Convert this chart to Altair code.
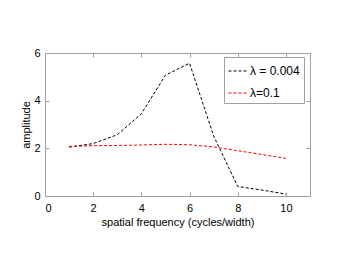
import altair as alt
import pandas as pd

freq = [1, 2, 3, 4, 5, 6, 7, 8, 9, 10]
amp_small = [2.05, 2.2, 2.57, 3.45, 5.07, 5.57, 2.52, 0.4, 0.25, 0.08]
amp_large = [2.08, 2.11, 2.12, 2.14, 2.17, 2.15, 2.06, 1.9, 1.74, 1.58]
labels = ["λ = 0.004", "λ=0.1"]
colors = ["#000000", "#ff0000"]
x_ticks = [0, 2, 4, 6, 8, 10]
y_ticks = [0, 2, 4, 6]

df = pd.DataFrame({
    "freq": freq * 2,
    "amp": amp_small + amp_large,
    "series": [labels[0]] * len(freq) + [labels[1]] * len(freq),
})

W, H = 265, 143
GRAY = "#a0a0a0"
FONT = "Liberation Sans"
xscale = alt.Scale(domain=[0, 11], nice=False, zero=False)
yscale = alt.Scale(domain=[0, 6], nice=False)

color = alt.Color(
    "series:N",
    scale=alt.Scale(domain=labels, range=colors),
    legend=alt.Legend(
        title=None, orient="none", legendX=179, legendY=4,
        symbolType="stroke", symbolDash=[3, 2], symbolStrokeWidth=1,
        symbolSize=360, labelFontSize=12, labelFont=FONT, labelColor="black",
        fillColor="white", strokeColor=GRAY, padding=4, rowPadding=6,
        labelOffset=2,
    ),
)

main = alt.Chart(df).mark_line(strokeWidth=1, strokeDash=[3, 2]).encode(
    x=alt.X("freq:Q", scale=xscale, axis=alt.Axis(
        orient="bottom", values=x_ticks, title="spatial frequency (cycles/width)",
        ticks=False, tickSize=0, domain=False, grid=False, labelPadding=6, titlePadding=3)),
    y=alt.Y("amp:Q", scale=yscale, axis=alt.Axis(
        orient="left", values=y_ticks, title="amplitude",
        ticks=False, tickSize=0, domain=False, grid=False, labelPadding=5, titlePadding=2)),
    color=color,
)

tick_axis = dict(labels=False, domain=False, grid=False, title=None, ticks=True,
                 tickSize=4, tickColor=GRAY)

ticks_b = alt.Chart(df).mark_line(opacity=0).encode(
    x=alt.X("freq:Q", scale=xscale, axis=alt.Axis(orient="top", offset=-H, values=x_ticks, **tick_axis)),
    y=alt.Y("amp:Q", scale=yscale, axis=alt.Axis(orient="right", offset=-W, values=y_ticks, **tick_axis)),
)
ticks_c = alt.Chart(df).mark_line(opacity=0).encode(
    x=alt.X("freq:Q", scale=xscale, axis=alt.Axis(orient="bottom", offset=-H, values=x_ticks, **tick_axis)),
    y=alt.Y("amp:Q", scale=yscale, axis=alt.Axis(orient="left", offset=-W, values=y_ticks, **tick_axis)),
)

chart = alt.layer(main, ticks_b, ticks_c).resolve_axis(
    x="independent", y="independent"
).properties(
    width=W, height=H,
    autosize=alt.AutoSizeParams(type="none"),
    padding={"left": 37, "top": 45, "right": 20, "bottom": 50},
).configure_view(
    stroke=GRAY, strokeWidth=1,
).configure_axis(
    labelFont=FONT, labelFontSize=11, labelColor="black",
    titleFont=FONT, titleFontSize=11, titleFontWeight="normal", titleColor="black",
)

chart.save("out.html", embed_options={"renderer": "svg", "actions": False})
